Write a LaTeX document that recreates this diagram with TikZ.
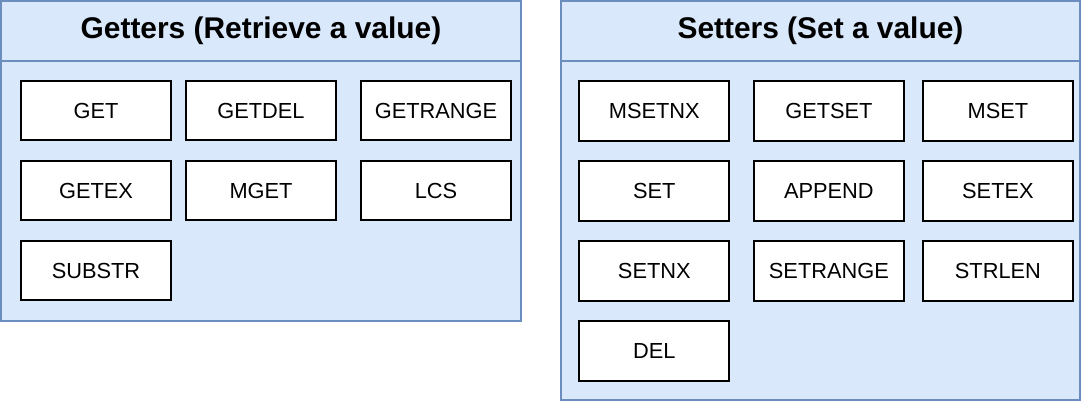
\documentclass[tikz,border=0pt]{standalone}
\usepackage{fontspec}
\setmainfont{Liberation Sans}
\usetikzlibrary{positioning}
\definecolor{panelfill}{HTML}{DAE8FC}
\definecolor{paneldraw}{HTML}{6C8EBF}
\begin{document}
\begin{tikzpicture}[x=1pt,y=1pt]
        \tikzstyle{panel} = [draw=paneldraw, fill=panelfill, line width=2pt, outer sep=0pt, inner sep=0pt, anchor=north west]
        \tikzstyle{rule} = [draw=paneldraw, line width=2pt]
        \tikzstyle{title} = [font=\fontsize{29.9}{34}\selectfont\bfseries]
        \tikzstyle{cmd} = [draw, fill=white, line width=2.2pt, outer sep=0pt, inner sep=0pt, minimum width=150pt, minimum height=59.3pt, font=\fontsize{21.8}{25}\selectfont, node distance=20.7pt]
        \useasboundingbox (0,0) rectangle (1082,-402);

        % getters
        \node[panel, minimum width=520pt, minimum height=319.5pt](getters) at (1,-1){};
        \draw[rule] ([yshift=-60pt]getters.north west) -- ([yshift=-60pt]getters.north east);
        \node[title](gtitle) at ([yshift=-30pt]getters.north){Getters (Retrieve a value)};
        \node[cmd, anchor=north west](get) at (21,-81){GET};
        \node[cmd, right=15pt of get](getdel){GETDEL};
        \node[cmd, right=25pt of getdel](getrange){GETRANGE};
        \node[cmd, below=of get](getex){GETEX};
        \node[cmd, below=of getdel](mget){MGET};
        \node[cmd, below=of getrange](lcs){LCS};
        \node[cmd, below=of getex](substr){SUBSTR};

        % setters
        \node[panel, minimum width=519pt, minimum height=398.5pt](setters) at (561,-1){};
        \draw[rule] ([yshift=-60pt]setters.north west) -- ([yshift=-60pt]setters.north east);
        \node[title](stitle) at ([yshift=-30pt]setters.north){Setters (Set a value)};
        \node[cmd, anchor=north west](msetnx) at (579.3,-81.3){MSETNX};
        \node[cmd, right=24.6pt of msetnx](getset){GETSET};
        \node[cmd, right=19pt of getset](mset){MSET};
        \node[cmd, below=of msetnx](set){SET};
        \node[cmd, below=of getset](append){APPEND};
        \node[cmd, below=of mset](setex){SETEX};
        \node[cmd, below=of set](setnx){SETNX};
        \node[cmd, below=of append](setrange){SETRANGE};
        \node[cmd, below=of setex](strlen){STRLEN};
        \node[cmd, below=of setnx](del){DEL};
\end{tikzpicture}
\end{document}
